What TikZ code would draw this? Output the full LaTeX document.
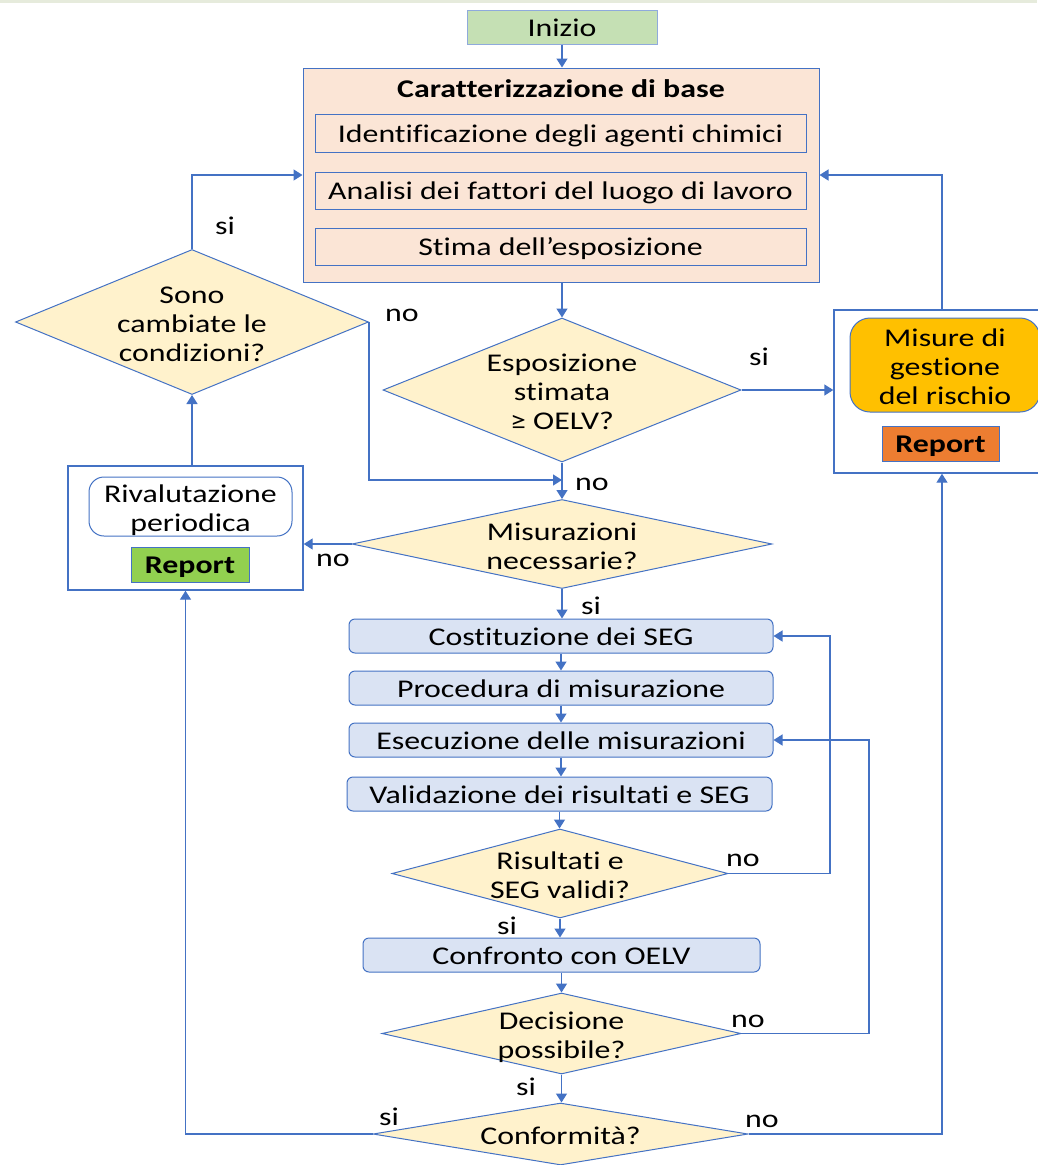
\documentclass[tikz,border=0pt]{standalone}
\usepackage{fontspec}
\setmainfont{Carlito}[FakeStretch=1.25, Ligatures={NoCommon}]
\usetikzlibrary{arrows.meta,shapes.geometric,calc}
\definecolor{lblue}{HTML}{4472C4}
\definecolor{lblue2}{HTML}{8FAADC}
\definecolor{ginizio}{HTML}{C5E0B4}
\definecolor{peach}{HTML}{FBE5D6}
\definecolor{dyel}{HTML}{FFF2CC}
\definecolor{bbox}{HTML}{DAE3F3}
\definecolor{gold}{HTML}{FFC000}
\definecolor{orep}{HTML}{ED7D31}
\definecolor{grep}{HTML}{92D050}
\definecolor{topline}{HTML}{E6EBDC}
\newcommand{\dtx}[1]{\raisebox{-11pt}[0pt][0pt]{\makebox[0pt]{\begin{tabular}{@{}c@{}}#1\end{tabular}}}}
\begin{document}
\begin{tikzpicture}[x=1pt,y=-1pt,
  every node/.style={font=\fontsize{25.5}{29}\selectfont, inner sep=0pt},
  arr/.style={draw=lblue, line width=1.4pt, -{Triangle[length=9pt,width=11pt]}},
  ln/.style={draw=lblue, line width=1.4pt},
  boxa/.style={draw=lblue, line width=1pt, rectangle, text height=18.5pt, text depth=0pt},
  bluebox/.style={boxa, fill=bbox, rounded corners=6pt},
  subbox/.style={boxa, fill=peach},
  outerbox/.style={draw=lblue, line width=1.4pt, fill=white, rectangle},
  dia/.style={draw=lblue, line width=1pt, fill=dyel, diamond, shape aspect=2},
  lbl/.style={text height=16pt, text depth=0pt},
  repbox/.style={draw=lblue, line width=1pt, rectangle, minimum width=117pt, minimum height=35pt, font=\fontsize{25.5}{29}\selectfont\bfseries, text height=18.5pt, text depth=0pt}
]
\useasboundingbox (0,0) rectangle (1037,1165);
\fill[topline] (0,0) rectangle (1037,2.5);

% top
\node[draw=lblue2, line width=1pt, fill=ginizio, minimum width=190pt, minimum height=34pt, text height=18.5pt, text depth=0pt] (inizio) at (562,27) {Inizio};
\node[draw=lblue, line width=1pt, fill=peach, minimum width=516pt, minimum height=214pt] (carat) at (561,175) {};
\node[font=\fontsize{25.5}{29}\selectfont\bfseries, text height=17pt, text depth=0pt] (ctitle) at (561,89) {Caratterizzazione di base};
\node[subbox, minimum width=491pt, minimum height=38pt] (sub1) at (560.5,133) {Identificazione degli agenti chimici};
\node[subbox, minimum width=491pt, minimum height=37pt] (sub2) at (560.5,190.5) {Analisi dei fattori del luogo di lavoro};
\node[subbox, minimum width=491pt, minimum height=37pt] (sub3) at (560.5,246.5) {Stima dell’esposizione};

% diamonds upper
\node[dia, minimum width=358pt, minimum height=144pt] (expo) at (562,390) {\dtx{Esposizione\\stimata\\≥ OELV?}};
\node[dia, minimum width=353pt, minimum height=145pt] (sono) at (192,322) {\dtx{Sono\\cambiate le\\condizioni?}};
\node[dia, minimum width=420pt, minimum height=89pt] (misur) at (562,544) {\dtx{Misurazioni\\necessarie?}};

% Misure group
\node[outerbox, minimum width=216pt, minimum height=163pt] (misure) at (942,391.5) {};
\node[draw=lblue, line width=1pt, fill=gold, rounded corners=20pt, minimum width=190pt, minimum height=94pt] (misin) at (945,365) {\dtx{Misure di\\gestione\\del rischio}};
\node[repbox, fill=orep] (rep1) at (940.5,443.5) {Report};

% Rivalutazione group
\node[outerbox, minimum width=235pt, minimum height=124pt] (rival) at (185.5,528) {};
\node[draw=lblue, line width=1pt, fill=white, rounded corners=15pt, minimum width=203pt, minimum height=59pt] (rivin) at (190.5,506.5) {\dtx{Rivalutazione\\periodica}};
\node[repbox, fill=grep, minimum width=118pt] (rep2) at (190,564.5) {Report};

% measurement chain
\node[bluebox, minimum width=424pt, minimum height=34pt] (cost) at (561,636) {Costituzione dei SEG};
\node[bluebox, minimum width=424pt, minimum height=34pt] (proc) at (561,688) {Procedura di misurazione};
\node[bluebox, minimum width=424pt, minimum height=34pt] (esec) at (561,740) {Esecuzione delle misurazioni};
\node[bluebox, minimum width=425pt, minimum height=34pt] (valid) at (559.5,794) {Validazione dei risultati e SEG};
\node[dia, minimum width=336pt, minimum height=89pt] (risul) at (560,873.5) {\dtx{Risultati e\\SEG validi?}};
\node[bluebox, minimum width=397pt, minimum height=34pt] (confr) at (561.5,955) {Confronto con OELV};
\node[dia, minimum width=359pt, minimum height=81pt] (decis) at (561.5,1033.5) {\dtx{Decisione\\possibile?}};
\node[dia, minimum width=375pt, minimum height=62pt] (conf) at (560.5,1134) {\dtx{Conformità?}};

% helper coordinates
\coordinate (jn) at (562,480);
\coordinate (rx1) at (830,0);
\coordinate (rx2) at (869,0);

% connectors
\draw[arr] (inizio.south) -- (inizio.south |- carat.north);
\draw[arr] (expo.north |- carat.south) -- (expo.north);
\draw[arr] (expo.east) -- (expo.east -| misure.west);
\draw[arr] (misure.north) |- (carat.east);
\draw[arr] (sono.north) |- (carat.west);
\draw[arr] (sono.east) |- (jn);
\draw[arr] (expo.south) -- (misur.north);
\draw[arr] (misur.west) -- (misur.west -| rival.east);
\draw[arr] (sono.south |- rival.north) -- (sono.south);
\draw[arr] (misur.south) -- (misur.south |- cost.north);
\draw[arr] (cost.south) -- (cost.south |- proc.north);
\draw[arr] (proc.south) -- (proc.south |- esec.north);
\draw[arr] (esec.south) -- (esec.south |- valid.north);
\draw[arr] (valid.south) -- (valid.south |- risul.north);
\draw[arr] (risul.south) -- (risul.south |- confr.north);
\draw[arr] (confr.south) -- (confr.south |- decis.north);
\draw[arr] (decis.south) -- (decis.south |- conf.north);
\draw[arr] (risul.east) -- (risul.east -| rx1) |- (cost.east);
\draw[arr] (decis.east) -- (decis.east -| rx2) |- (esec.east);
\draw[arr] (conf.west) -| (rival.south);
\draw[arr] (conf.east) -| (misure.south);

% labels
\node[lbl] (l1) at (225,226) {si};
\node[lbl] (l2) at (402,313) {no};
\node[lbl] (l3) at (759,357) {si};
\node[lbl] (l4) at (592,482) {no};
\node[lbl] (l5) at (333,558) {no};
\node[lbl] (l6) at (591,606) {si};
\node[lbl] (l7) at (743,858) {no};
\node[lbl] (l8) at (507,926) {si};
\node[lbl] (l9) at (748,1019) {no};
\node[lbl] (l10) at (526,1087) {si};
\node[lbl] (l11) at (389,1117) {si};
\node[lbl] (l12) at (762,1119) {no};
\end{tikzpicture}
\end{document}
